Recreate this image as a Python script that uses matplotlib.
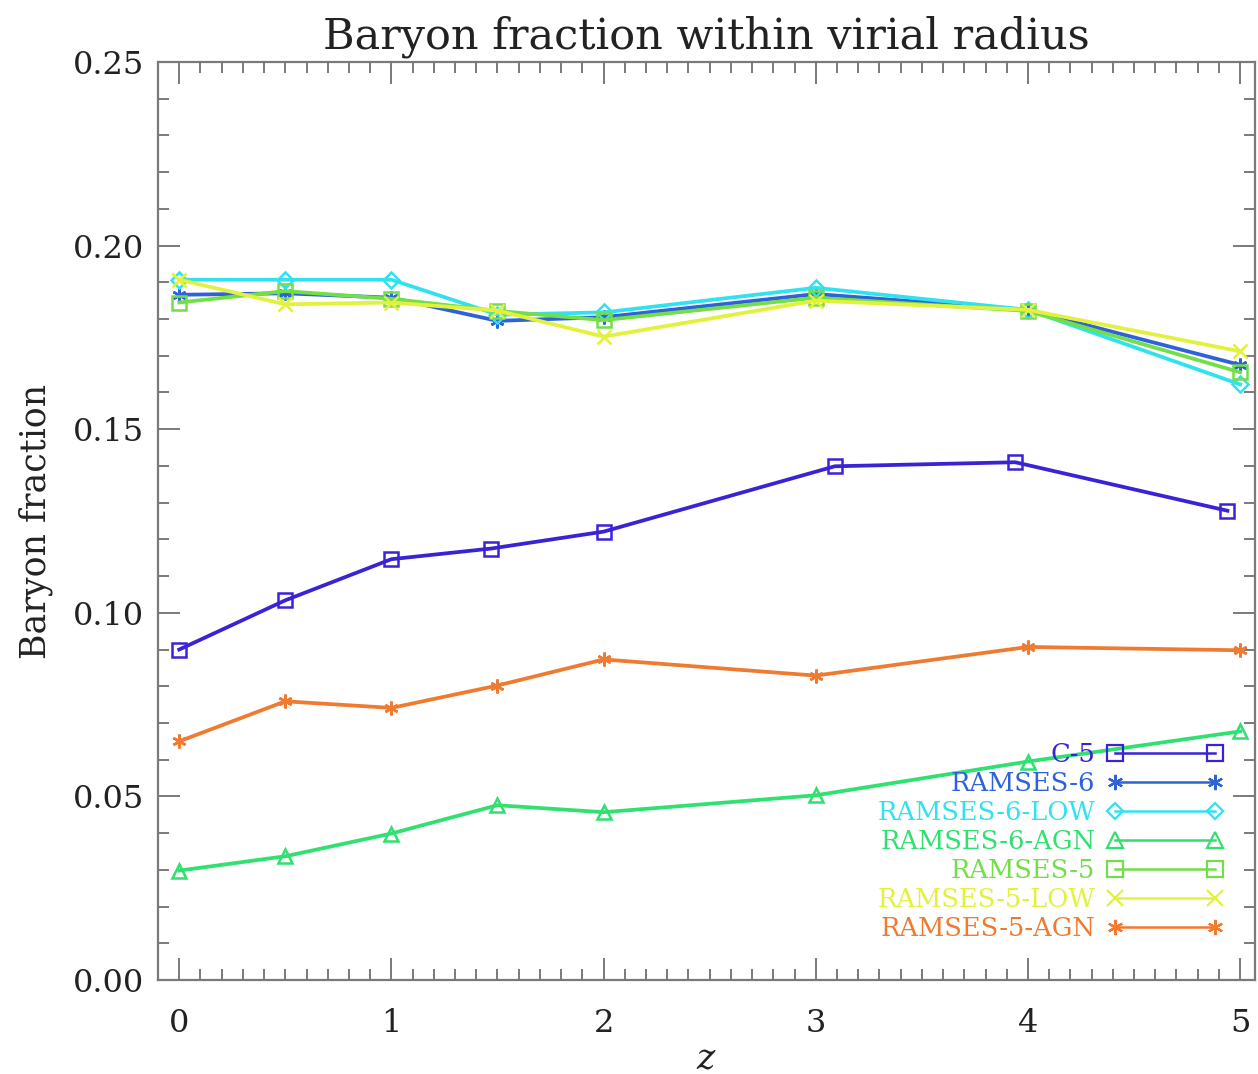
import matplotlib
matplotlib.use("Agg")
import matplotlib.pyplot as plt
from matplotlib.lines import Line2D
from matplotlib.ticker import MultipleLocator, FormatStrFormatter

# Redshift sampling of the runs
z_ramses = [0, 0.5, 1, 1.5, 2, 3, 4, 5]
z_c5 = [0, 0.5, 1, 1.47, 2, 3.09, 3.94, 4.94]

# Baryon fraction within the virial radius
fb_c5 = [0.0900, 0.1034, 0.1146, 0.1175, 0.1221, 0.1399, 0.1410, 0.1278]
fb_ramses6 = [0.1866, 0.1870, 0.1858, 0.1795, 0.1805, 0.1868, 0.1825, 0.1675]
fb_ramses6_low = [0.1907, 0.1907, 0.1907, 0.1812, 0.1818, 0.1885, 0.1825, 0.1622]
fb_ramses6_agn = [0.0298, 0.0337, 0.0399, 0.0476, 0.0457, 0.0503, 0.0595, 0.0677]
fb_ramses5 = [0.1845, 0.1876, 0.1855, 0.1822, 0.1797, 0.1858, 0.1822, 0.1655]
fb_ramses5_low = [0.1907, 0.1840, 0.1845, 0.1823, 0.1752, 0.1850, 0.1825, 0.1712]
fb_ramses5_agn = [0.0650, 0.0759, 0.0741, 0.0802, 0.0873, 0.0829, 0.0907, 0.0898]

labels = ["C-5", "RAMSES-6", "RAMSES-6-LOW", "RAMSES-6-AGN",
          "RAMSES-5", "RAMSES-5-LOW", "RAMSES-5-AGN"]
colors = ["#3a22d6", "#2d62d8", "#30e2f0", "#30e070",
          "#72de48", "#e2f23c", "#f07a30"]
asterisk = (6, 2, 0)
markers = ["s", asterisk, "D", "^", "s", "x", asterisk]
xs = [z_c5] + [z_ramses] * 6
ys = [fb_c5, fb_ramses6, fb_ramses6_low, fb_ramses6_agn,
      fb_ramses5, fb_ramses5_low, fb_ramses5_agn]

plt.rcParams["font.family"] = ["DejaVu Serif"]
plt.rcParams["mathtext.fontset"] = "dejavuserif"

fig = plt.figure(figsize=(12.58, 10.74), dpi=100)
ax = fig.add_axes([0.1256, 0.0875, 0.872, 0.8548])

for x, y, c, m in zip(xs, ys, colors, markers):
    filled = m in ("x", asterisk)
    ax.plot(x, y, color=c, lw=2.7, marker=m, ms=10 if m != "D" else 8,
            mfc=c if filled else "none", mec=c, mew=1.8, zorder=3)

ax.set_xlim(-0.1, 5.07)
ax.set_ylim(0.0, 0.25)
ax.xaxis.set_major_locator(MultipleLocator(1))
ax.xaxis.set_minor_locator(MultipleLocator(0.1))
ax.yaxis.set_major_locator(MultipleLocator(0.05))
ax.yaxis.set_minor_locator(MultipleLocator(0.01))
ax.yaxis.set_major_formatter(FormatStrFormatter("%.2f"))

axis_grey = "#7a7a7a"
for sp in ax.spines.values():
    sp.set_color(axis_grey)
    sp.set_linewidth(1.6)
ax.tick_params(which="both", direction="in", top=True, right=True,
               color=axis_grey, width=1.4, labelsize=23, labelcolor="#222222")
ax.tick_params(which="major", length=16)
ax.tick_params(which="minor", length=8)
ax.tick_params(axis="x", pad=20)
ax.tick_params(axis="y", pad=10)

ax.set_title("Baryon fraction within virial radius", fontsize=31,
             color="#222222", pad=10)
ax.set_ylabel("Baryon fraction", fontsize=25, color="#222222", labelpad=14)
ax.set_xlabel(r"$z$", fontsize=25, color="#222222", labelpad=2)

handles = []
for c, m in zip(colors, markers):
    filled = m in ("x", asterisk)
    handles.append(Line2D([], [], color=c, lw=1.8, marker=m,
                          ms=11 if m != "D" else 8,
                          mfc=c if filled else "none", mec=c, mew=1.6))
leg = ax.legend(handles, labels, loc="lower right",
                bbox_to_anchor=(0.971, 0.042), frameon=False,
                markerfirst=False, numpoints=2, handlelength=4.5,
                handletextpad=0.47, labelspacing=0.16, fontsize=18.5,
                labelcolor="linecolor", borderpad=0, borderaxespad=0)

fig.savefig("out.png", dpi=100)
